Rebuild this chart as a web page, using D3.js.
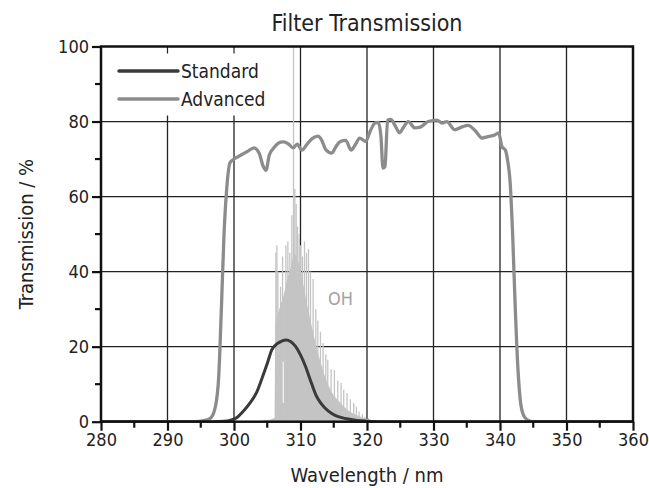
<!DOCTYPE html>
<html>
<head>
<meta charset="utf-8">
<script src="https://cdn.jsdelivr.net/npm/d3@7"></script>
<style>
  body { margin: 0; background: #fff; }
  svg text { font-family: "Liberation Sans Narrow", "Arial Narrow", "DejaVu Sans Condensed", sans-serif; fill: #222; }
</style>
</head>
<body>
<div class="graph_container"></div>
<script>
const w = 649;
const h = 488;
const plot = { left: 101, right: 633, top: 46.5, bottom: 421.7 };

// wavelength (nm) / transmission (%)
const advWave = [280, 294, 295.5, 296.5, 297.2, 297.7, 298.1, 298.5, 298.9, 299.4, 300, 301, 302, 303, 303.8, 304.4, 304.8, 305.3, 306, 307, 307.5, 308.2, 308.9, 309.5, 310.2, 311, 311.8, 312.6, 313.2, 313.8, 314.7, 315.4, 316, 316.8, 317.6, 318.3, 318.9, 319.8, 320.5, 321.2, 321.7, 322.1, 322.4, 322.7, 323.1, 323.6, 324.2, 324.9, 325.5, 326.2, 327.2, 328, 329.2, 330.5, 331.3, 332, 333.2, 334.2, 335.2, 336.3, 337.3, 338.2, 339.2, 339.8, 340.3, 340.8, 341.2, 341.5, 341.9, 342.3, 342.7, 343.1, 343.6, 344.2, 345, 360];
const advValue = [0, 0, 0.3, 1, 4, 12, 30, 50, 62, 69, 70, 71, 72, 73, 71.5, 68, 67, 71, 73, 74.5, 74.6, 74, 73, 74, 72.4, 74, 75.5, 76.1, 75, 72.5, 71.6, 73.5, 74.7, 75, 72.4, 74, 75.6, 74.7, 77.5, 79.6, 79.8, 76, 67.6, 68, 80.4, 80.6, 79, 77, 78.5, 80, 78.3, 78.5, 80, 80.4, 79.6, 80, 77.8, 78.5, 79, 77.5, 75.6, 76, 76.4, 77, 73.3, 72.4, 69, 64.4, 50, 30, 14, 5, 1.5, 0.4, 0, 0];

const stdWave = [280, 297, 298.5, 299.5, 300.5, 301.5, 302.5, 303.4, 304.2, 305, 305.7, 306.5, 307.2, 307.8, 308.5, 309.2, 310, 310.8, 311.6, 312.4, 313.2, 314.2, 315.2, 316.2, 317.2, 318.5, 320, 322, 360];
const stdValue = [0, 0, 0.1, 0.4, 1.2, 3, 5.2, 7.8, 11.5, 15.5, 19.2, 20.8, 21.5, 21.8, 21.4, 20.2, 17.8, 14.5, 10.5, 6.8, 4.6, 2.8, 1.7, 1.1, 0.7, 0.35, 0.15, 0, 0];

// OH emission: dense background band and the individual lines on top
const ohWave = [303, 305.5, 306.1, 306.2, 306.6, 307, 307.5, 308, 308.5, 309, 309.5, 310, 310.5, 311, 311.5, 312, 312.5, 313, 313.5, 314, 314.5, 315, 316, 317, 318, 319, 320, 321, 325];
const ohValue = [0, 0.6, 1, 26, 29, 31, 34, 38, 41, 45, 44, 40, 36, 31, 27, 23, 19, 16, 13, 10.5, 8.5, 7, 5, 3.2, 2.1, 1.3, 0.7, 0.3, 0];
const ohLineWave = [306.3, 306.45, 306.6, 307.0, 307.3, 307.8, 308.1, 308.4, 308.7, 308.95, 309.15, 309.35, 309.55, 309.8, 310.0, 310.3, 310.6, 310.9, 311.2, 311.5, 311.9, 312.3, 312.6, 313.0, 313.4, 313.8, 314.1, 314.6, 315.1, 315.6, 316.1, 316.5, 317.0, 317.5, 318.0, 318.4, 318.8, 319.3, 319.7, 320.2];
const ohLineValue = [45, 47, 40, 36, 44, 47, 48, 45, 55, 100, 62, 58, 52, 50, 47, 44, 48, 45, 46, 40, 38, 30, 27, 24, 21, 18, 16.5, 14, 13.8, 11, 10.3, 8.5, 7.6, 6, 5, 4, 2.7, 2, 1.3, 1];
const ohGaps = [307.4];

const xTicks = [280, 290, 300, 310, 320, 330, 340, 350, 360];
const yTicks = [0, 20, 40, 60, 80, 100];
const seriesNames = ["Standard", "Advanced"];
const seriesColors = ["#3a3a3a", "#8c8c8c"];

const svg = d3.select(".graph_container").append("svg").attr("width", w).attr("height", h);

const xScale = d3.scaleLinear().domain([280, 360]).range([plot.left, plot.right]);
const yScale = d3.scaleLinear().domain([0, 100]).range([plot.bottom, plot.top]);

svg.append("defs").append("clipPath").attr("id", "clip")
  .append("rect")
  .attr("x", plot.left).attr("y", plot.top)
  .attr("width", plot.right - plot.left).attr("height", plot.bottom - plot.top);

// grid
var grid = svg.append("g").attr("class", "grid");
grid.selectAll(".vgrid")
  .data(xTicks.slice(1, -1))
  .enter().append("line")
  .attr("x1", d => xScale(d)).attr("x2", d => xScale(d))
  .attr("y1", plot.top).attr("y2", plot.bottom)
  .attr("stroke", "#222").attr("stroke-width", 1.3);
grid.selectAll(".hgrid")
  .data(yTicks.slice(1, -1))
  .enter().append("line")
  .attr("x1", plot.left).attr("x2", plot.right)
  .attr("y1", d => yScale(d)).attr("y2", d => yScale(d))
  .attr("stroke", "#222").attr("stroke-width", 1.3);

var marks = svg.append("g").attr("clip-path", "url(#clip)");

// OH spectrum
marks.append("path")
  .datum(ohWave.map((d, i) => [d, ohValue[i]]))
  .attr("fill", "#c4c4c4")
  .attr("d", d3.area().x(d => xScale(d[0])).y0(yScale(0)).y1(d => yScale(d[1])));

marks.selectAll(".ohline")
  .data(ohLineWave.map((d, i) => [d, ohLineValue[i]]))
  .enter().append("line")
  .attr("class", "ohline")
  .attr("x1", d => xScale(d[0])).attr("x2", d => xScale(d[0]))
  .attr("y1", yScale(0)).attr("y2", d => yScale(d[1]))
  .attr("stroke", "#c4c4c4").attr("stroke-width", 1.3);

marks.selectAll(".ohgap")
  .data(ohGaps)
  .enter().append("line")
  .attr("x1", d => xScale(d)).attr("x2", d => xScale(d))
  .attr("y1", yScale(16)).attr("y2", yScale(5))
  .attr("stroke", "#fff").attr("stroke-width", 1);

var line = d3.line().x(d => xScale(d[0])).y(d => yScale(d[1])).curve(d3.curveMonotoneX);

marks.append("path")
  .datum(advWave.map((d, i) => [d, advValue[i]]))
  .attr("fill", "none")
  .attr("stroke", seriesColors[1])
  .attr("stroke-width", 3.3)
  .attr("stroke-linejoin", "round")
  .attr("d", line);

marks.append("path")
  .datum(stdWave.map((d, i) => [d, stdValue[i]]))
  .attr("fill", "none")
  .attr("stroke", seriesColors[0])
  .attr("stroke-width", 3)
  .attr("d", line);

svg.append("text")
  .attr("x", xScale(316))
  .attr("y", yScale(31))
  .attr("text-anchor", "middle")
  .style("fill", "#a2a2a2")
  .style("font-size", "18px")
  .text("OH");

// legend (white box hides grid)
svg.append("rect")
  .attr("x", plot.left + 1).attr("y", plot.top + 1)
  .attr("width", 180).attr("height", 68)
  .attr("fill", "#fff");

var legend = svg.append("g").attr("id", "legend")
  .selectAll("g")
  .data(seriesNames)
  .enter().append("g")
  .attr("transform", (d, i) => "translate(0," + (71 + i * 28) + ")");

legend.append("line")
  .attr("x1", 119).attr("x2", 178)
  .attr("stroke", (d, i) => seriesColors[i])
  .attr("stroke-width", 3.5)
  .attr("stroke-linecap", "round");

legend.append("text")
  .attr("x", 181)
  .attr("dy", "0.35em")
  .style("font-size", "19px")
  .text(d => d);

// axes
var xAxis = d3.axisBottom(xScale).tickValues(xTicks).tickSize(9).tickPadding(3);
var gx = svg.append("g")
  .attr("id", "x-axis")
  .attr("transform", "translate(0," + plot.bottom + ")")
  .call(xAxis);
gx.selectAll(".minor")
  .data(xTicks.slice(0, -1).map(d => d + 5))
  .enter().append("line")
  .attr("class", "minor")
  .attr("x1", d => xScale(d)).attr("x2", d => xScale(d))
  .attr("y1", 0).attr("y2", 6);

var yAxis = d3.axisLeft(yScale).tickValues(yTicks).tickSize(9).tickPadding(3);
var gy = svg.append("g")
  .attr("id", "y-axis")
  .attr("transform", "translate(" + plot.left + ",0)")
  .call(yAxis);
gy.selectAll(".minor")
  .data(yTicks.slice(0, -1).map(d => d + 10))
  .enter().append("line")
  .attr("class", "minor")
  .attr("x1", 0).attr("x2", -6)
  .attr("y1", d => yScale(d)).attr("y2", d => yScale(d));

// top inward ticks under legend
svg.selectAll(".topTick")
  .data([290, 300])
  .enter().append("line")
  .attr("x1", d => xScale(d)).attr("x2", d => xScale(d))
  .attr("y1", plot.top).attr("y2", plot.top + 7)
  .attr("stroke", "#222").attr("stroke-width", 1.2);

[gx, gy].forEach(g => {
  g.select(".domain").remove();
  g.selectAll("line").attr("stroke", "#111").attr("stroke-width", 2.2);
  g.selectAll("text").style("font-size", "18px").style("fill", "#222");
});

// frame
svg.append("rect")
  .attr("x", plot.left).attr("y", plot.top)
  .attr("width", plot.right - plot.left).attr("height", plot.bottom - plot.top)
  .attr("fill", "none")
  .attr("stroke", "#111")
  .attr("stroke-width", 2.5);

svg.append("text")
  .attr("x", (plot.left + plot.right) / 2)
  .attr("y", 31)
  .attr("text-anchor", "middle")
  .style("font-size", "23px")
  .text("Filter Transmission");

svg.append("text")
  .attr("x", (plot.left + plot.right) / 2)
  .attr("y", 482)
  .attr("text-anchor", "middle")
  .style("font-size", "20px")
  .text("Wavelength / nm");

svg.append("text")
  .attr("transform", "rotate(-90)")
  .attr("x", -(plot.top + plot.bottom) / 2)
  .attr("y", 33)
  .attr("text-anchor", "middle")
  .style("font-size", "20px")
  .text("Transmission / %");
</script>
</body>
</html>
